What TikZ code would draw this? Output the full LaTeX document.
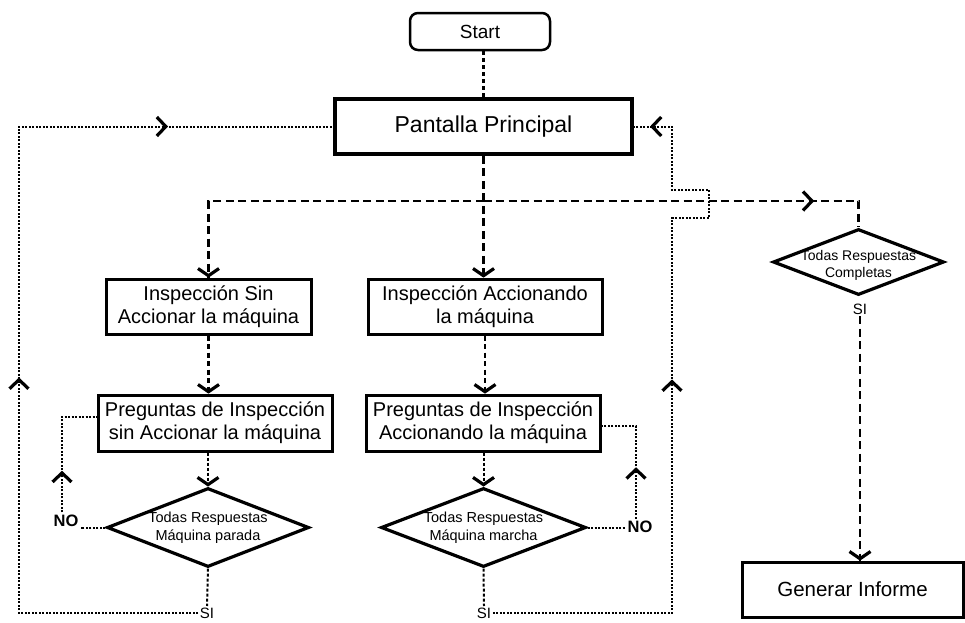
\documentclass[tikz,border=0pt]{standalone}
\usepackage{fontspec}
\setmainfont{Liberation Sans}
\usetikzlibrary{decorations.markings,shapes.geometric,calc}
\newcommand\chevshape{\draw[solid,line width=3.2pt,line join=miter,line cap=butt] (-4.5pt,-9.5pt) -- (4.5pt,0pt) -- (-4.5pt,9.5pt);}
\newcommand\chevend{\draw[solid,line width=3.2pt,line join=miter,line cap=butt] (-9pt,-10.5pt) -- (-1.8pt,0pt) -- (-9pt,10.5pt);}
\tikzset{
  box/.style={draw,line width=3pt,minimum height=55pt,inner sep=0pt,align=center,font=\fontsize{20}{23}\selectfont},
  dia/.style={draw,shape=diamond,line width=3.2pt,inner sep=0pt},
  diatext/.style={align=center,inner sep=0pt,font=\fontsize{14.5}{18}\selectfont},
  nolabel/.style={inner sep=2pt,font=\fontsize{16.5}{18}\selectfont\bfseries},
  silabel/.style={inner sep=1.5pt,font=\fontsize{15}{17}\selectfont},
  thickdash/.style={line width=2.9pt,dash pattern=on 8pt off 4.5pt},
  startline/.style={line width=2.2pt,dash pattern=on 4pt off 3pt},
  meddash/.style={line width=2.3pt,dash pattern=on 5pt off 3.5pt},
  thindash/.style={line width=2pt,dash pattern=on 3pt off 2pt},
  looppath/.style={line width=2pt,dash pattern=on 2.2pt off 1.3pt},
  endarrow/.style={postaction=decorate,decoration={markings,mark=at position 1 with {\chevend}}},
  midarrow/.style={postaction=decorate,decoration={markings,mark=at position #1 with {\chevshape}}},
  twoarrows/.style 2 args={postaction=decorate,decoration={markings,mark=at position #1 with {\chevshape},mark=at position #2 with {\chevshape}}}
}
\begin{document}
\begin{tikzpicture}[x=1pt,y=-1pt]
\path[use as bounding box] (0,0) rectangle (965,622);
% nodes
\node[draw,rounded corners=8pt,line width=2.5pt,minimum width=140pt,minimum height=37pt,inner sep=0pt,font=\fontsize{19}{22}\selectfont] (start) at (480,31.5) {Start};
\node[box,line width=3.5pt,minimum width=297pt,font=\fontsize{23}{26}\selectfont] (pant) at (483.5,126.5) {Pantalla Principal};
\node[box,minimum width=205pt] (isin) at (208.5,306.5) {Inspección Sin\\Accionar la máquina};
\node[box,minimum width=234pt] (iacc) at (485,306.5) {Inspección Accionando\\la máquina};
\node[box,minimum width=234pt,minimum height=56pt] (psin) at (215,423) {Preguntas de Inspección\\sin Accionar la máquina};
\node[box,minimum width=234pt,minimum height=56pt] (pacc) at (483,423) {Preguntas de Inspección\\Accionando la máquina};
\node[dia,minimum width=202pt,minimum height=79pt] (dsin) at (208,527.5) {};
\node[diatext] (dsinT) at (208,527.5) {Todas Respuestas\\Máquina parada};
\node[dia,minimum width=205pt,minimum height=79pt] (dacc) at (483.5,527.5) {};
\node[diatext] (daccT) at (483.5,527.5) {Todas Respuestas\\Máquina marcha};
\node[dia,minimum width=171pt,minimum height=66pt] (dcomp) at (858.5,262) {};
\node[diatext,font=\fontsize{14}{17}\selectfont] (dcompT) at (858.5,265) {Todas Respuestas\\Completas};
\node[box,minimum width=221pt,font=\fontsize{20.5}{23}\selectfont] (gen) at (852.5,589.5) {Generar Informe};
\node[nolabel] (nol) at (66,520.5) {NO};
\node[nolabel] (nor) at (640,527) {NO};
\node[silabel] (sil) at (207,613) {SI};
\node[silabel] (sir) at (484,613) {SI};
\node[silabel] (sic) at (860,309) {SI};
\coordinate (J) at (483.5,201);
\coordinate (LC) at (19,613);
\coordinate (R1) at (672,613);
\coordinate (R2) at (672,218);
\coordinate (R3) at (709,218);
\coordinate (R4) at (709,190);
\coordinate (R5) at (672,190);
% connectors
\draw[startline] (pant.north |- start.south) -- (pant.north);
\draw[thickdash,endarrow] (pant.south) -- (pant.south |- iacc.north);
\draw[thickdash,endarrow] (J) -| (isin.north);
\draw[thickdash,midarrow=324pt] (J) -| (dcomp.north);
\draw[meddash,endarrow] (isin.south) -- (isin.south |- psin.north);
\draw[meddash,endarrow] (iacc.south) -- (iacc.south |- pacc.north);
\draw[thindash,endarrow] (dsin.north |- psin.south) -- (dsin.north);
\draw[thindash,endarrow] (dacc.north |- pacc.south) -- (dacc.north);
\draw[looppath] (dsin.west) -- (nol.east |- dsin.west);
\draw[looppath,midarrow=35pt] ([xshift=-4pt]nol.north) |- ($(psin.west)+(0,-6)$);
\draw[looppath] (dacc.east) -- (nor.west |- dacc.east);
\draw[looppath,midarrow=45pt] ([xshift=-4pt]nor.north) |- ($(pacc.east)+(0,3)$);
\draw[thindash] (dsin.south) -- (sil.north);
\draw[thindash] (dacc.south) -- (sir.north);
\draw[looppath,twoarrows={408pt}{808pt}] (sil.west) -- (LC) |- (pant.west);
\draw[looppath,twoarrows={406pt}{-23pt}] (sir.east) -- (R1) -- (R2) -- (R3) -- (R4) -- (R5) |- (pant.east);
\draw[thickdash,endarrow] (sic.south) -- (sic.south |- gen.north);
\end{tikzpicture}
\end{document}
